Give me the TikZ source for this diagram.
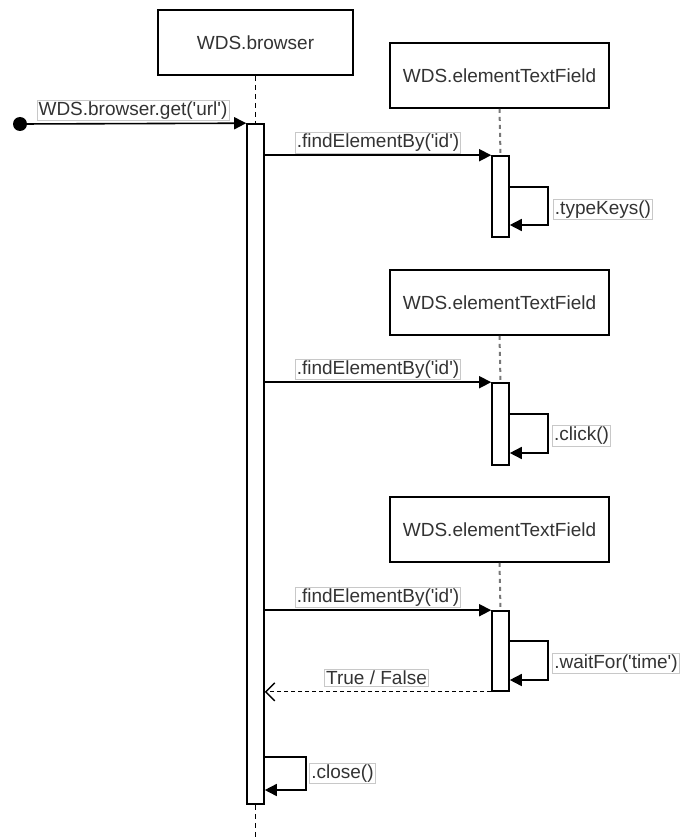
\documentclass[tikz,border=0pt]{standalone}
\usepackage{fontspec}
\setmainfont{Liberation Sans}[Ligatures=TeXOff]
\usetikzlibrary{arrows.meta}
\definecolor{txt}{HTML}{333333}
\definecolor{lblborder}{HTML}{C8C8C8}
\definecolor{lifegray}{HTML}{777777}
\tikzset{
  objbox/.style={draw=black, line width=1.6pt, fill=white, minimum width=#1, minimum height=65pt, inner sep=0pt, text=txt, font=\fontsize{19}{21}\selectfont},
  actbox/.style={draw=black, line width=1.6pt, fill=white, minimum width=17pt, minimum height=#1, inner sep=0pt},
  lbl/.style={draw=lblborder, line width=0.8pt, fill=white, inner sep=1.5pt, text=txt, font=\fontsize{19}{21}\selectfont},
  msg/.style={draw=black, line width=1.6pt, -{Triangle[length=12pt,width=12pt]}},
  ret/.style={draw=black, line width=1.3pt, dash pattern=on 4pt off 3pt, -{Straight Barb[length=9pt,width=18pt,line width=1.4pt]}},
  lifeb/.style={draw=black, line width=1.6pt, dash pattern=on 5pt off 4pt},
  lifeg/.style={draw=lifegray, line width=2pt, dash pattern=on 4pt off 4pt},
}
\begin{document}
\begin{tikzpicture}[x=1pt,y=-1pt]
\useasboundingbox (0,0) rectangle (681,837);

% objects
\node[objbox=195pt] (bw) at (255.5,42.5) {WDS.browser};
\node[objbox=219pt] (e1) at (499.5,75.5) {WDS.elementTextField};
\node[objbox=219pt] (e2) at (499.5,302.5) {WDS.elementTextField};
\node[objbox=219pt] (e3) at (499.5,529.5) {WDS.elementTextField};

% activations
\node[actbox=680pt] (a0) at (255.5,464) {};
\node[actbox=81pt] (a1) at (500.5,196.5) {};
\node[actbox=82pt] (a2) at (500.5,424) {};
\node[actbox=80pt] (a3) at (500.5,651) {};

% lifelines
\coordinate (bend) at (255.5,837);
\draw[lifeb] (bw.south) -- (a0.north);
\draw[lifeb] (a0.south) -- (bend);
\draw[lifeg] (e1.south) -- (a1.north);
\draw[lifeg] (e2.south) -- (a2.north);
\draw[lifeg] (e3.south) -- (a3.north);

% start
\node[circle, fill=black, minimum size=14pt, inner sep=0pt] (start) at (20,124) {};
\draw[msg] (start.center) -- (a0.north west);
\node[lbl] (lget) at (133,110.5) {WDS.browser.get('url')};

% calls
\draw[msg] (a0.east |- a1.north) -- (a1.north west);
\node[lbl] (lf1) at (378,143) {.findElementBy('id')};
\draw[msg] (a0.east |- a2.north) -- (a2.north west);
\node[lbl] (lf2) at (378,369.5) {.findElementBy('id')};
\draw[msg] (a0.east |- a3.north) -- (a3.north west);
\node[lbl] (lf3) at (378,597.5) {.findElementBy('id')};

% self calls
\coordinate (s1t) at (509,187); \coordinate (s1b) at (509,225);
\draw[msg] (a1.east |- s1t) -- ++(38,0) |- (a1.east |- s1b);
\node[lbl] (lt) at (603,209.5) {.typeKeys()};

\coordinate (s2t) at (509,414); \coordinate (s2b) at (509,453);
\draw[msg] (a2.east |- s2t) -- ++(38,0) |- (a2.east |- s2b);
\node[lbl] (lc) at (581.5,436) {.click()};

\coordinate (s3t) at (509,641); \coordinate (s3b) at (509,680);
\draw[msg] (a3.east |- s3t) -- ++(38,0) |- (a3.east |- s3b);
\node[lbl] (lw) at (616,663.5) {.waitFor('time')};

% return
\draw[ret] (a3.south west) -- (a0.east |- a3.south);
\node[lbl] (ltf) at (376.5,678) {True / False};

% close
\coordinate (s4t) at (264,757); \coordinate (s4b) at (264,790);
\draw[msg] (a0.east |- s4t) -- ++(41,0) |- (a0.east |- s4b);
\node[lbl] (lcl) at (342.5,773.5) {.close()};
\end{tikzpicture}
\end{document}
